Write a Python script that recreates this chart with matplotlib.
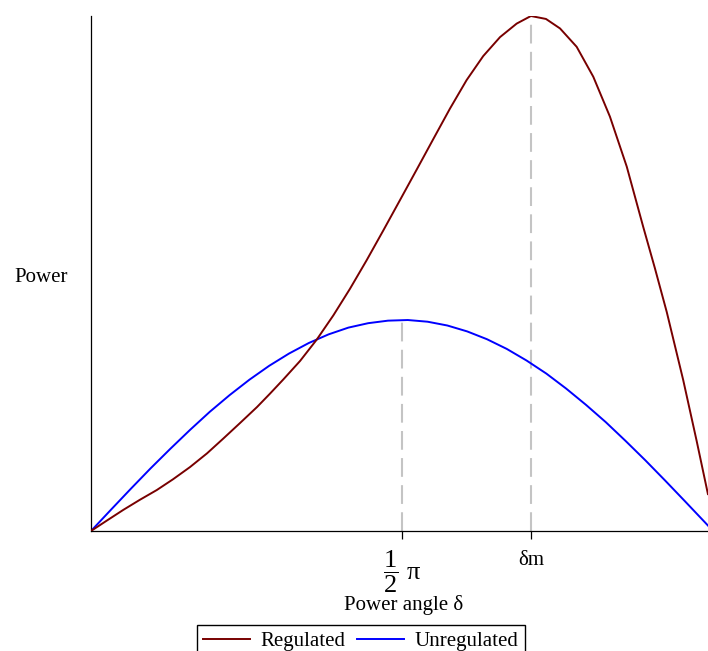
import numpy as np
import matplotlib
matplotlib.use("Agg")
from matplotlib import pyplot as plt

# 读图得到的数据 (δ 单位 rad, 功率以非调节曲线峰值为 1)
regulated_x = [0.000, 0.081, 0.163, 0.247, 0.332, 0.414, 0.500, 0.586, 0.668, 0.753,
               0.839, 0.904, 0.971, 1.056, 1.140, 1.224, 1.308, 1.392, 1.476, 1.561,
               1.645, 1.729, 1.813, 1.897, 1.981, 2.066, 2.150, 2.222, 2.298, 2.369,
               2.453, 2.537, 2.621, 2.706, 2.789, 2.848, 2.908, 2.991, 3.059, 3.116]
regulated_y = [0.000, 0.050, 0.100, 0.148, 0.194, 0.245, 0.303, 0.368, 0.438, 0.512,
               0.588, 0.651, 0.718, 0.806, 0.907, 1.022, 1.148, 1.283, 1.424, 1.569,
               1.713, 1.858, 2.002, 2.137, 2.251, 2.341, 2.405, 2.441, 2.427, 2.382,
               2.295, 2.153, 1.964, 1.727, 1.442, 1.246, 1.038, 0.716, 0.427, 0.175]

unregulated_x = [0.0, 0.1, 0.2, 0.3, 0.4, 0.5, 0.6, 0.7, 0.8, 0.9, 1.0, 1.1, 1.2,
                 1.3, 1.4, 1.5, 1.6, 1.7, 1.8, 1.9, 2.0, 2.1, 2.2, 2.3, 2.4, 2.5,
                 2.6, 2.7, 2.8, 2.9, 3.0, 3.1, 3.14]
unregulated_y = [0.000, 0.100, 0.199, 0.296, 0.389, 0.479, 0.565, 0.644, 0.717,
                 0.783, 0.841, 0.891, 0.932, 0.964, 0.985, 0.997, 1.000, 0.992,
                 0.974, 0.946, 0.909, 0.863, 0.808, 0.746, 0.675, 0.598, 0.516,
                 0.427, 0.335, 0.239, 0.141, 0.042, 0.002]

tick_pos = [np.pi / 2, 2.222]
tick_labels = [r'$\dfrac{1}{2}$ π', 'δm']
peak_y = [1.0, 2.441]

plt.rcParams['font.family'] = ['Liberation Serif', 'DejaVu Serif']
plt.rcParams['mathtext.fontset'] = 'custom'
plt.rcParams['mathtext.rm'] = 'Liberation Serif'
plt.rcParams['mathtext.it'] = 'Liberation Serif:italic'
plt.rcParams['font.size'] = 15

fig = plt.figure(figsize=(7.08, 6.51), dpi=100)
ax = fig.add_axes([91 / 708, 1 - 531 / 651, 622 / 708, 515 / 651])

# 虚线
for xp, yp in zip(tick_pos, peak_y):
    ax.plot([xp, xp], [0, yp], color='#c4c4c4', lw=1.5, dashes=(9, 4), zorder=1)

l1, = ax.plot(regulated_x, regulated_y, color='#780000', lw=1.4, label='Regulated', zorder=3)
l2, = ax.plot(unregulated_x, unregulated_y, color='#0000ff', lw=1.4, label='Unregulated', zorder=2)

ax.set_xlim(0, np.pi)
ax.set_ylim(0, 2.441)
ax.spines['top'].set_visible(False)
ax.spines['right'].set_visible(False)
for s in ['left', 'bottom']:
    ax.spines[s].set_linewidth(0.9)
ax.set_yticks([])
ax.set_xticks(tick_pos)
ax.set_xticklabels([tick_labels[0], ''])
ax.tick_params(axis='x', direction='out', length=6, width=0.9, pad=7, labelsize=15)
ax.get_xticklabels()[0].set_fontsize(19)
# δm 标签单独放，位置略低
ax.annotate(tick_labels[1], xy=(tick_pos[1], 0), xycoords=('data', 'axes fraction'),
            xytext=(0, -21), textcoords='offset points', ha='center', va='center', fontsize=15)

fig.text(41 / 708, 1 - 277 / 651, 'Power', ha='center', va='center', fontsize=15)
fig.text(404 / 708, 1 - 605 / 651, 'Power angle δ', ha='center', va='center', fontsize=15)

leg = fig.legend(handles=[l1, l2], loc='upper left', bbox_to_anchor=(197 / 708, 1 - 625 / 651),
                 ncol=2, frameon=True, fancybox=False, framealpha=1, edgecolor='black',
                 borderaxespad=0, handlelength=2.26, handletextpad=0.48, columnspacing=0.58,
                 borderpad=0.3, fontsize=15)
leg.get_frame().set_linewidth(1.0)

fig.savefig('out.png', dpi=100)
